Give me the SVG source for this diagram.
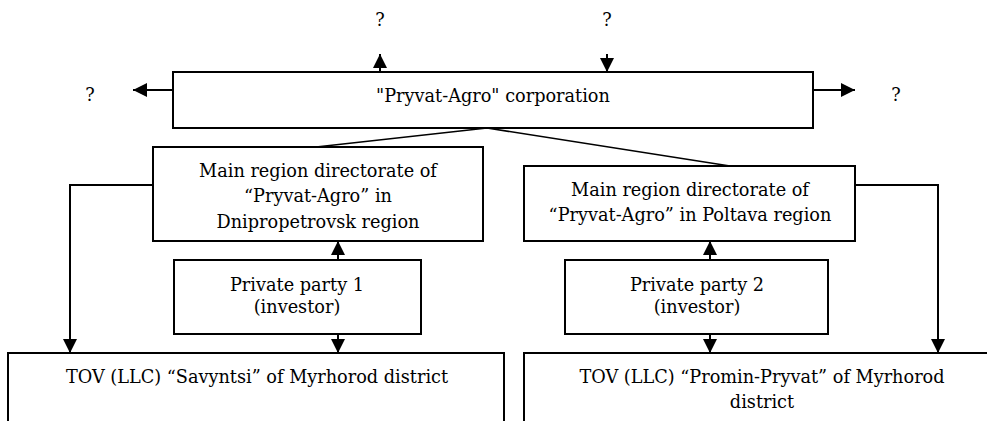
<svg xmlns="http://www.w3.org/2000/svg" width="987" height="421" viewBox="0 0 987 421">
<defs>
<marker id="ah" viewBox="0 0 14 14" refX="14" refY="7" markerWidth="14" markerHeight="14" markerUnits="userSpaceOnUse" orient="auto">
<path d="M0,0 L14,7 L0,14 Z" fill="#000"/>
</marker>
<style>
.box{fill:#fff;stroke:#000;stroke-width:2}
.t{font-family:"DejaVu Serif","Liberation Serif",serif;font-size:17.7px;fill:#000;text-anchor:middle}
.c{fill:none;stroke:#000;stroke-width:2}
.a{marker-end:url(#ah)}
.d{fill:none;stroke:#000;stroke-width:1.6}
</style>
</defs>
<rect width="987" height="421" fill="#fff"/>
<g id="connectors">
<line class="c a" x1="380" y1="72" x2="380" y2="54"/>
<line class="c a" x1="607" y1="54" x2="607" y2="72"/>
<line class="c a" x1="173" y1="90" x2="133" y2="90"/>
<line class="c a" x1="813" y1="90" x2="855" y2="90"/>
<polyline class="d" points="316,147 487,128 730,166"/>
<polyline class="c a" points="153,185 70,185 70,353"/>
<polyline class="c a" points="855,185 938,185 938,353"/>
<line class="c a" x1="338" y1="260" x2="338" y2="241"/>
<line class="c a" x1="338" y1="334" x2="338" y2="353"/>
<line class="c a" x1="710" y1="260" x2="710" y2="241"/>
<line class="c a" x1="710" y1="334" x2="710" y2="353"/>
</g>
<g id="q-top-left"><text class="t" x="380" y="26">?</text></g>
<g id="q-top-right"><text class="t" x="607" y="26">?</text></g>
<g id="q-left"><text class="t" x="90" y="101">?</text></g>
<g id="q-right"><text class="t" x="896" y="101">?</text></g>
<g id="corp">
<rect class="box" x="173" y="72" width="640" height="56"/>
<text class="t" x="493" y="102">"Pryvat-Agro" corporation</text>
</g>
<g id="dir-dnipro">
<rect class="box" x="153" y="147" width="330" height="94"/>
<text class="t" x="318" y="177">Main region directorate of</text>
<text class="t" x="318" y="202">“Pryvat-Agro” in</text>
<text class="t" x="318" y="228">Dnipropetrovsk region</text>
</g>
<g id="dir-poltava">
<rect class="box" x="524" y="166" width="331" height="75"/>
<text class="t" x="690" y="196">Main region directorate of</text>
<text class="t" x="690" y="221">“Pryvat-Agro” in Poltava region</text>
</g>
<g id="party1">
<rect class="box" x="174" y="260" width="247" height="74"/>
<text class="t" x="297" y="291">Private party 1</text>
<text class="t" x="297" y="313">(investor)</text>
</g>
<g id="party2">
<rect class="box" x="565" y="260" width="263" height="74"/>
<text class="t" x="697" y="291">Private party 2</text>
<text class="t" x="697" y="313">(investor)</text>
</g>
<g id="tov-savyntsi">
<rect class="box" x="8" y="353" width="496" height="90"/>
<text class="t" x="257" y="383">TOV (LLC) “Savyntsi” of Myrhorod district</text>
</g>
<g id="tov-promin">
<rect class="box" x="524" y="353" width="480" height="90"/>
<text class="t" x="762" y="383">TOV (LLC) “Promin-Pryvat” of Myrhorod</text>
<text class="t" x="762" y="408">district</text>
</g>
</svg>
